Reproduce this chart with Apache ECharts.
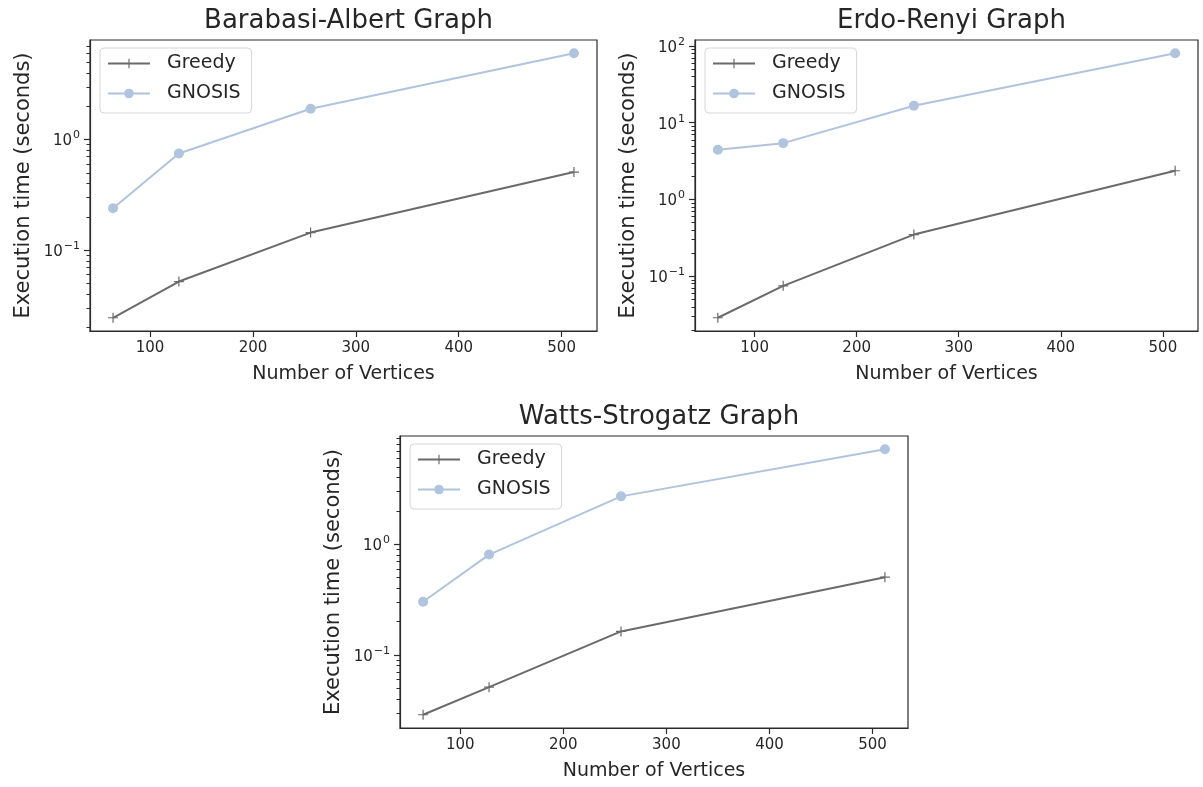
<!DOCTYPE html>
<html><head><meta charset="utf-8">
<script src="https://cdn.jsdelivr.net/npm/echarts@6/dist/echarts.min.js"></script>
<style>html,body{margin:0;padding:0;background:#fff}#c{width:1203px;height:787px}</style>
</head><body><div id="c"></div><script>
// ---- data ----
const xVertices = [64, 128, 256, 512];
const seriesNames = ['Greedy', 'GNOSIS'];
const panelTitles = ['Barabasi-Albert Graph', 'Erdo-Renyi Graph', 'Watts-Strogatz Graph'];
const baGreedy = [0.0244, 0.0519, 0.144, 0.508];
const baGnosis = [0.239, 0.748, 1.90, 6.04];
const erGreedy = [0.0288, 0.075, 0.349, 2.37];
const erGnosis = [4.44, 5.42, 16.6, 80.4];
const wsGreedy = [0.0288, 0.0511, 0.163, 0.504];
const wsGnosis = [0.302, 0.807, 2.71, 7.22];
const xTickValues = [100, 200, 300, 400, 500];
const yMajorTicks = [0.01, 0.1, 1, 10, 100];
const xAxisName = 'Number of Vertices';
const yAxisName = 'Execution time (seconds)';

// ---- layout / style ----
const panels = [
  {left: 90, top: 40, width: 507, height: 291, greedy: baGreedy, gnosis: baGnosis},
  {left: 695, top: 40, width: 503, height: 291, greedy: erGreedy, gnosis: erGnosis},
  {left: 400, top: 436, width: 508, height: 292, greedy: wsGreedy, gnosis: wsGnosis}
];
const FONT = 'DejaVu Sans';
const TXT = '#262626';
const AX = '#2b2b2b';
const GREEDY_COLOR = '#6a6a6a';
const GNOSIS_COLOR = '#b0c4de';
const PLUS = 'path://M0,4.4H10V5.6H0ZM4.4,0H5.6V10H4.4Z';

function logExtent(vals) {
  const lo = Math.log10(Math.min.apply(null, vals));
  const hi = Math.log10(Math.max.apply(null, vals));
  const m = (hi - lo) * 0.05;
  return [Math.pow(10, lo - m), Math.pow(10, hi + m)];
}
const xMargin = (xVertices[xVertices.length - 1] - xVertices[0]) * 0.05;
const xMin = xVertices[0] - xMargin, xMax = xVertices[xVertices.length - 1] + xMargin;

function supLabel(v) {
  const e = Math.round(Math.log10(v));
  return '{b|10}{s|' + (e < 0 ? '\u2212' + (-e) : e) + '}';
}

const option = {
  backgroundColor: '#fff',
  animation: false,
  textStyle: {fontFamily: FONT, color: TXT},
  title: [], grid: [], xAxis: [], yAxis: [], legend: [], series: []
};

panels.forEach((p, i) => {
  const ext = logExtent(p.greedy.concat(p.gnosis));
  const minors = [];
  for (let k = -3; k <= 3; k++) for (let m = 2; m <= 9; m++) {
    const v = m * Math.pow(10, k);
    if (v > ext[0] && v < ext[1]) minors.push(v);
  }
  const majors = yMajorTicks.filter(v => v >= ext[0] && v <= ext[1]);

  option.title.push({
    text: panelTitles[i], left: p.left + p.width / 2, top: p.top - 37, textAlign: 'center',
    textStyle: {fontFamily: FONT, fontSize: 26, fontWeight: 'normal', color: TXT}
  });
  option.grid.push({
    left: p.left, top: p.top, width: p.width, height: p.height,
    show: true, borderColor: AX, borderWidth: 1.2, backgroundColor: 'transparent'
  });
  option.xAxis.push({
    type: 'value', gridIndex: i, min: xMin, max: xMax,
    name: xAxisName, nameLocation: 'middle', nameGap: 34,
    nameTextStyle: {fontFamily: FONT, fontSize: 19, color: TXT},
    axisLine: {show: true, lineStyle: {color: AX, width: 1.2}},
    axisTick: {show: true, length: 6, lineStyle: {color: AX, width: 1.2}, customValues: xTickValues},
    axisLabel: {show: true, margin: 10, fontFamily: FONT, fontSize: 15, color: TXT, customValues: xTickValues},
    splitLine: {show: false}
  });
  option.yAxis.push({
    type: 'log', logBase: 10, gridIndex: i, position: 'left', min: ext[0], max: ext[1],
    name: yAxisName, nameLocation: 'middle', nameGap: 56,
    nameTextStyle: {fontFamily: FONT, fontSize: 21, color: TXT},
    axisLine: {show: true, lineStyle: {color: AX, width: 1.2}},
    axisTick: {show: true, length: 6, lineStyle: {color: AX, width: 1.2}, customValues: majors},
    axisLabel: {
      show: true, margin: 10, customValues: majors, formatter: supLabel,
      rich: {
        b: {fontFamily: FONT, fontSize: 15, color: TXT, verticalAlign: 'bottom'},
        s: {fontFamily: FONT, fontSize: 11, color: TXT, verticalAlign: 'bottom', padding: [0, 0, 8, 1]}
      }
    },
    splitLine: {show: false}
  });
  option.yAxis.push({
    type: 'log', logBase: 10, gridIndex: i, position: 'left', min: ext[0], max: ext[1], offset: 0,
    axisLine: {show: false},
    axisTick: {show: true, length: 3.5, lineStyle: {color: AX, width: 1}, customValues: minors},
    axisLabel: {show: false},
    splitLine: {show: false}
  });
  option.legend.push({
    data: seriesNames, orient: 'vertical', left: p.left + 10, top: p.top + 8,
    itemWidth: 42, itemHeight: 12, itemGap: 11,
    padding: [6, 11, 10, 7],
    backgroundColor: 'rgba(255,255,255,0.8)', borderColor: '#d6d6d6', borderWidth: 1, borderRadius: 4,
    textStyle: {fontFamily: FONT, fontSize: 19, color: TXT, padding: [0, 0, 0, 12]},
    selectedMode: false
  });
  option.series.push({
    name: seriesNames[0], type: 'line', xAxisIndex: i, yAxisIndex: 2 * i,
    data: xVertices.map((x, j) => [x, p.greedy[j]]),
    symbol: PLUS, symbolSize: 10, showAllSymbol: true,
    lineStyle: {color: GREEDY_COLOR, width: 2},
    itemStyle: {color: GREEDY_COLOR},
    z: 3
  });
  option.series.push({
    name: seriesNames[1], type: 'line', xAxisIndex: i, yAxisIndex: 2 * i,
    data: xVertices.map((x, j) => [x, p.gnosis[j]]),
    symbol: 'circle', symbolSize: 10, showAllSymbol: true,
    lineStyle: {color: GNOSIS_COLOR, width: 2},
    itemStyle: {color: GNOSIS_COLOR},
    z: 3
  });
});

const chart = echarts.init(document.getElementById('c'), null, {renderer: 'canvas'});
chart.setOption(option);
</script></body></html>
